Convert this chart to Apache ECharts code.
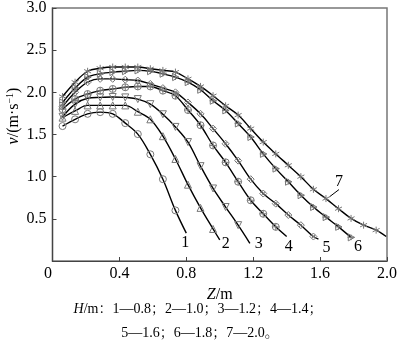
<!DOCTYPE html>
<html><head><meta charset="utf-8">
<script src="https://cdn.jsdelivr.net/npm/echarts@6/dist/echarts.min.js"></script>
<style>html,body{margin:0;padding:0;background:#fff}#c{width:400px;height:345px}</style>
</head><body><div id="c"></div>
<script>
// marker positions along Z (m)
const zPos = [0.06,0.135,0.21,0.285,0.36,0.435,0.51,0.585,0.66,0.735,0.81,0.885,0.96,1.035,1.11,1.185,1.26,1.335,1.41,1.485,1.56,1.635,1.71,1.785,1.86,1.935];
// velocity v (m/s) per curve, H = 0.8 ... 2.0 m
const v1 = [1.60,1.68,1.745,1.765,1.745,1.635,1.505,1.265,0.97,0.60];
const v2 = [1.70,1.78,1.845,1.845,1.845,1.845,1.77,1.68,1.48,1.21,0.905,0.63,0.38];
const v3 = [1.71,1.86,1.93,1.94,1.945,1.94,1.92,1.86,1.74,1.59,1.41,1.125,0.86,0.64,0.425];
const v4 = [1.80,1.92,1.98,2.02,2.04,2.06,2.07,2.07,2.02,1.96,1.79,1.61,1.37,1.17,0.94,0.72,0.56,0.405];
const v5 = [1.83,2.00,2.12,2.16,2.16,2.15,2.14,2.10,2.05,2.00,1.88,1.745,1.57,1.39,1.19,0.97,0.80,0.68,0.545,0.425,0.29];
const v6 = [1.88,2.05,2.18,2.22,2.24,2.25,2.26,2.25,2.22,2.18,2.12,2.03,1.90,1.785,1.63,1.47,1.27,1.095,0.94,0.78,0.64,0.52,0.405,0.28];
const v7 = [1.95,2.12,2.25,2.285,2.30,2.30,2.30,2.28,2.26,2.24,2.16,2.07,1.96,1.84,1.73,1.57,1.41,1.27,1.135,1.00,0.85,0.74,0.62,0.505,0.425,0.366];
// line ends (z, v) beyond last marker
const end1 = [0.80,0.33], end2 = [1.00,0.25], end3 = [1.18,0.21], end4 = [1.40,0.29], end5 = [1.59,0.26], end7 = [1.995,0.29];
const curveLabels = ['1','2','3','4','5','6','7'];
const xTicks = [0,0.4,0.8,1.2,1.6,2.0];
const captionLines = ['{i|H}/m：1—0.8；2—1.0；3—1.2；4—1.4；','5—1.6；6—1.8；7—2.0。'];

const SERIF = '"Liberation Serif", "Noto Serif CJK SC", "Noto Sans CJK SC", serif';
const symbols = [
  'circle',
  'path://M5,0L10,9L0,9Z',
  'path://M0,0L10,0L5,9Z',
  'path://M0,5A5,5,0,1,1,10,5A5,5,0,1,1,0,5ZM5,0L5,10M0,5L10,5',
  'path://M5,0L10,5L5,10L0,5ZM2.5,2.5L7.5,7.5M2.5,7.5L7.5,2.5',
  'path://M1,0L10,5L1,10ZM0,5L10,5M5,1L5,9',
  'path://M5,0L5,10M0.7,2.5L9.3,7.5M0.7,7.5L9.3,2.5'
];
const labelOffsets = [[-1,10],[6,4],[9,1],[2,10],[8,9],[7,9]];
const vs = [v1,v2,v3,v4,v5,v6,v7];
const ends = [end1,end2,end3,end4,end5,null,end7];

function lbl(i){
  return {show:true, formatter:curveLabels[i], position:'inside', offset:labelOffsets[i],
          fontFamily:SERIF, fontSize:16, color:'#000'};
}
const series = vs.map((arr,i)=>{
  const data = arr.map((v,k)=>({value:[zPos[k],v]}));
  if (ends[i]) data.push({value:ends[i], symbolSize:0});
  if (i<6) data[data.length-1].label = lbl(i);
  const s = {
    type:'line', smooth:0.35, data, symbol:symbols[i], symbolSize:7, showAllSymbol:true,
    lineStyle:{color:'#000', width:1.4},
    itemStyle:{color:'rgba(255,255,255,0)', borderColor:'#777', borderWidth:1},
    label:{show:false}, emphasis:{disabled:true}, z:2
  };
  if (i===6){
    data[21].label = {show:true, formatter:'7', fontFamily:SERIF, fontSize:16, color:'#000', position:'inside'};
    s.labelLayout = {dx:13, dy:-17};
    s.labelLine = {show:true, lineStyle:{color:'#000', width:1}};
  }
  return s;
});

const chart = echarts.init(document.getElementById('c'), null, {renderer:'canvas'});
chart.setOption({
  animation:false,
  grid:{left:52.5, right:11, top:6, bottom:84, show:true, borderColor:'#777', borderWidth:1.5},
  xAxis:{type:'value', min:0, max:2, interval:0.4,
    axisLine:{lineStyle:{color:'#444', width:1.2}},
    axisTick:{inside:true, length:4, lineStyle:{color:'#444'}},
    splitLine:{show:false},
    axisLabel:{margin:5, color:'#000', fontFamily:SERIF, fontSize:16,
      formatter:v=> v===0 ? '{o|0}' : v.toFixed(1),
      rich:{o:{padding:[0,9,0,0], fontFamily:SERIF, fontSize:16, color:'#000'}}},
    name:'{i|Z}/m', nameLocation:'middle', nameGap:22,
    nameTextStyle:{fontFamily:SERIF, fontSize:16, color:'#000',
      rich:{i:{fontStyle:'italic', fontFamily:SERIF, fontSize:16, color:'#000'}}}
  },
  yAxis:{type:'value', min:0, max:3, interval:0.5,
    axisLine:{lineStyle:{color:'#444', width:1.2}},
    axisTick:{inside:true, length:4, lineStyle:{color:'#444'}},
    splitLine:{show:false},
    axisLabel:{margin:6, color:'#000', fontFamily:SERIF, fontSize:16,
      formatter:v=> v===0 ? '' : v.toFixed(1)}
  },
  graphic:[
    {type:'text', x:14, y:116, rotation:Math.PI/2,
     style:{text:'{i|v}/(m·s{s|−1})', fill:'#000', font:'16px '+SERIF, align:'center', verticalAlign:'middle',
       rich:{i:{fontStyle:'italic', fontSize:16, fontFamily:SERIF, fill:'#000'},
             s:{fontSize:10, fontFamily:SERIF, padding:[0,0,8,0], fill:'#000'}}}},
    {type:'text', x:198, y:309,
     style:{text:captionLines[0], fill:'#000', font:'14px '+SERIF, align:'center', verticalAlign:'middle',
       rich:{i:{fontStyle:'italic', fontSize:14, fontFamily:SERIF, fill:'#000'}}}},
    {type:'text', x:200, y:333,
     style:{text:captionLines[1], fill:'#000', font:'14px '+SERIF, align:'center', verticalAlign:'middle'}}
  ],
  series
});
</script></body></html>
